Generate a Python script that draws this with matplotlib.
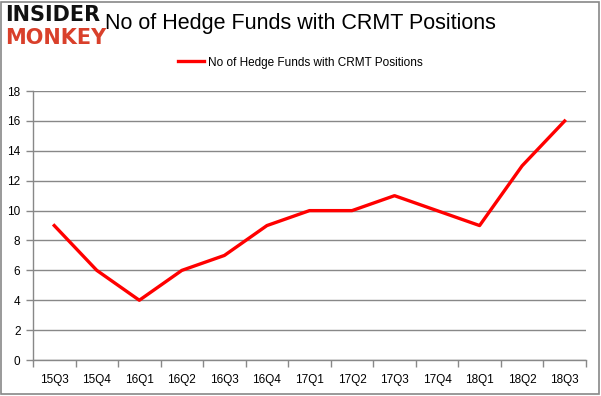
import matplotlib.pyplot as plt
from matplotlib.patches import Rectangle

quarters = ["15Q3", "15Q4", "16Q1", "16Q2", "16Q3", "16Q4", "17Q1",
            "17Q2", "17Q3", "17Q4", "18Q1", "18Q2", "18Q3"]
funds = [9, 6, 4, 6, 7, 9, 10, 10, 11, 10, 9, 13, 16]
yticks = [0, 2, 4, 6, 8, 10, 12, 14, 16, 18]
series_name = "No of Hedge Funds with CRMT Positions"

plt.rcParams['font.family'] = ['Liberation Sans', 'DejaVu Sans']

fig = plt.figure(figsize=(6.01, 3.96), dpi=100)
ax = fig.add_axes([0.0549, 0.0909, 0.92, 0.679])

x = list(range(len(quarters)))
ax.plot(x, funds, color="#ff0000", linewidth=2.4, label=series_name)

ax.set_xlim(-0.5, len(quarters) - 0.5)
ax.set_ylim(0, 18)
ax.set_yticks(yticks)
ax.set_xticks(x)
ax.set_xticklabels(quarters)
ax.set_xticks([i - 0.5 for i in range(len(quarters) + 1)], minor=True)
ax.tick_params(axis="x", which="major", length=0, pad=10, labelsize=8.5)
ax.tick_params(axis="x", which="minor", length=5, color="#888888", width=1)
ax.tick_params(axis="y", length=5, color="#888888", width=1, labelsize=8.5, pad=4)

ax.grid(axis="y", color="#888888", linewidth=1)
ax.set_axisbelow(True)
for side in ["top", "right"]:
    ax.spines[side].set_visible(False)
for side in ["left", "bottom"]:
    ax.spines[side].set_color("#888888")
    ax.spines[side].set_linewidth(1)

fig.text(0.5, 0.94, series_name, ha="center", va="center", fontsize=15.5)
leg = fig.legend(loc="center", bbox_to_anchor=(0.5, 0.842), frameon=False,
                 fontsize=8.5, handlelength=2.2, handletextpad=0.4)

# logo
fig.text(0.008, 0.962, "INSIDER", fontsize=15, fontweight="bold", color="#111111",
         ha="left", va="center", family="DejaVu Sans")
fig.text(0.008, 0.905, "MONKEY", fontsize=15, fontweight="bold", color="#d9402b",
         ha="left", va="center", family="DejaVu Sans")

fig.patches.append(Rectangle((0.001, 0.004), 0.995, 0.99, transform=fig.transFigure,
                             fill=False, edgecolor="#888888", linewidth=1.2))

fig.savefig("out.png", dpi=100)
